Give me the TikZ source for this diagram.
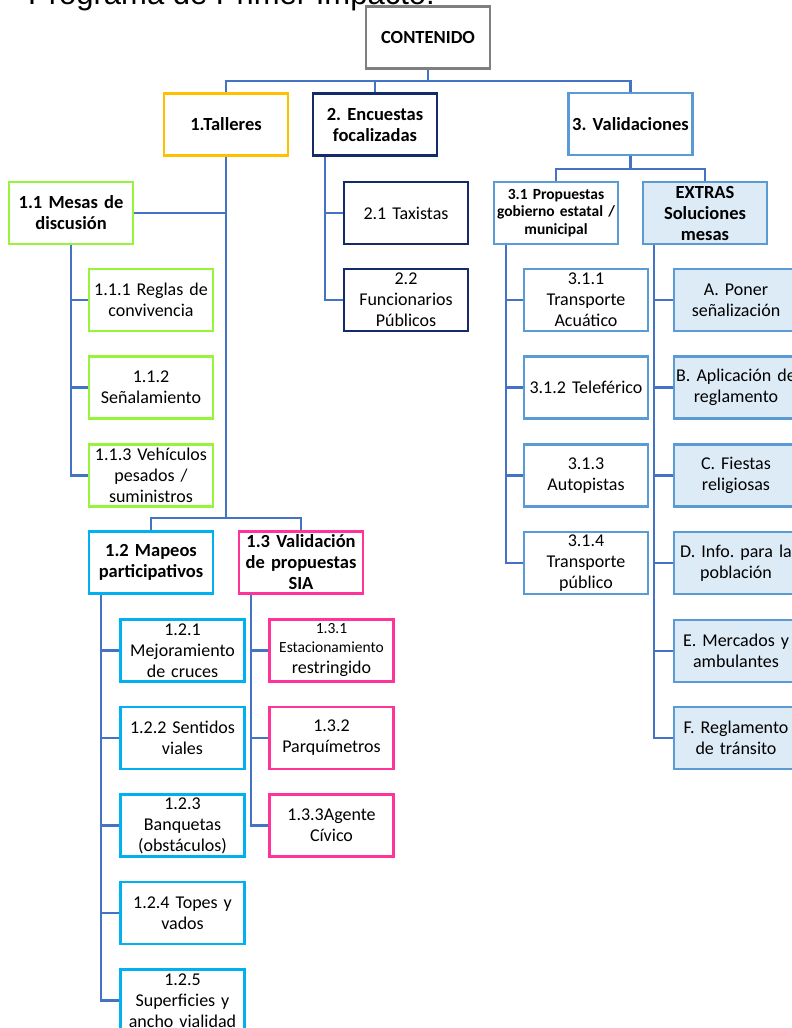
\documentclass[tikz,border=0pt]{standalone}
\usepackage{fontspec}
\setmainfont{Carlito}
\newfontfamily\titlefont{Liberation Sans}
\frenchspacing
\definecolor{linkblue}{HTML}{4472C4}
\definecolor{cgray}{HTML}{7F7F7F}
\definecolor{cyel}{HTML}{FFC000}
\definecolor{cnavy}{HTML}{142B6B}
\definecolor{clb}{HTML}{5B9BD5}
\definecolor{cfill}{HTML}{DDEBF7}
\definecolor{cgreen}{HTML}{96F53A}
\definecolor{ccyan}{HTML}{00B0F0}
\definecolor{cpink}{HTML}{FF3399}
\tikzset{
  bx/.style={draw, line width=2.5pt, fill=white, minimum width=124pt, minimum height=62pt,
    text width=120pt, align=center, inner xsep=2pt, inner ysep=0pt,
    font=\frenchspacing\fontsize{18}{21}\selectfont},
  bxb/.style={bx, font=\frenchspacing\fontsize{18.5}{21}\selectfont\bfseries},
  link/.style={draw=linkblue, line width=2.5pt},
}
\begin{document}
\begin{tikzpicture}[x=1pt,y=-1pt]
\useasboundingbox (0,0) rectangle (792,1028);
\clip (0,0) rectangle (792,1028);
\fill[white] (0,0) rectangle (792,1028);

\node[anchor=base west, inner sep=0pt, font=\titlefont\fontsize{31}{36}\selectfont] (title) at (28,4) {Programa de Primer Impacto:};

% level 0/1
\node[bxb, draw=cgray] (cont) at (428,37.5) {CONTENIDO};
\node[bxb, draw=cyel] (tal) at (226,124.5) {1.Talleres};
\node[bxb, draw=cnavy] (enc) at (375,124.5) {2. Encuestas\\focalizadas};
\node[bxb, draw=clb] (val) at (630.5,124) {3. Validaciones};

% branch 1
\node[bxb, draw=cgreen] (mes) at (71,213) {1.1 Mesas de\\discusión};
\node[bx, draw=cgreen] (m111) at (151,300) {1.1.1 Reglas de\\convivencia};
\node[bx, draw=cgreen] (m112) at (151,387.5) {1.1.2\\Señalamiento};
\node[bx, draw=cgreen] (m113) at (151,475.5) {1.1.3 Vehículos\\pesados /\\suministros};

\node[bxb, draw=ccyan] (map) at (151,562.5) {1.2 Mapeos\\participativos};
\node[bxb, draw=cpink] (vsia) at (301,562.5) {1.3 Validación\\de propuestas\\SIA};

\node[bx, draw=ccyan] (m121) at (182.5,650.5) {1.2.1\\Mejoramiento\\de cruces};
\node[bx, draw=ccyan] (m122) at (182.5,738) {1.2.2 Sentidos\\viales};
\node[bx, draw=ccyan] (m123) at (182.5,825.5) {1.2.3\\Banquetas\\(obstáculos)};
\node[bx, draw=ccyan] (m124) at (182.5,913) {1.2.4 Topes y\\vados};
\node[bx, draw=ccyan] (m125) at (182.5,1000.5) {1.2.5\\Superficies y\\ancho vialidad};

\node[bx, draw=cpink] (m131) at (331.5,650.5) {{\fontsize{15.5}{17}\selectfont 1.3.1}\\[-2pt]{\fontsize{15.5}{17}\selectfont Estacionamiento}\\restringido};
\node[bx, draw=cpink] (m132) at (331.5,738) {1.3.2\\Parquímetros};
\node[bx, draw=cpink] (m133) at (331.5,825.5) {1.3.3Agente\\Cívico};

% branch 2
\node[bx, draw=cnavy] (e21) at (406,213) {2.1 Taxistas};
\node[bx, draw=cnavy] (e22) at (406,300) {2.2\\Funcionarios\\Públicos};

% branch 3
\node[bxb, draw=clb, font=\frenchspacing\fontsize{15.5}{17.5}\selectfont\bfseries] (prop) at (556,213) {3.1 Propuestas\\gobierno estatal /\\municipal};
\node[bxb, draw=clb, fill=cfill] (ext) at (705,213) {EXTRAS\\Soluciones\\mesas};

\node[bx, draw=clb] (v311) at (586,300) {3.1.1\\Transporte\\Acuático};
\node[bx, draw=clb] (v312) at (586,387.5) {3.1.2 Teleférico};
\node[bx, draw=clb] (v313) at (586,475.5) {3.1.3\\Autopistas};
\node[bx, draw=clb] (v314) at (586,563) {3.1.4\\Transporte\\público};

\node[bx, draw=clb, fill=cfill] (xa) at (736,300) {A. Poner\\señalización};
\node[bx, draw=clb, fill=cfill] (xb) at (736,387.5) {B. Aplicación de\\reglamento};
\node[bx, draw=clb, fill=cfill] (xc) at (736,475.5) {C. Fiestas\\religiosas};
\node[bx, draw=clb, fill=cfill] (xd) at (736,563) {D. Info. para la\\población};
\node[bx, draw=clb, fill=cfill] (xe) at (736,651) {E. Mercados y\\ambulantes};
\node[bx, draw=clb, fill=cfill] (xf) at (736,738) {F. Reglamento\\de tránsito};

% connectors: top level
\coordinate (cb) at (428,81);
\draw[link] (cont.south) -- (cb);
\draw[link] (tal.north) |- (cb) -| (val.north);
\draw[link] (enc.north) -- (enc.north |- cb);

% Talleres
\coordinate (tb) at (226,518);
\draw[link] (tal.south) -- (tb);
\draw[link] (mes.east) -- (mes.east -| tal.south);
\draw[link] (map.north) |- (tb) -| (vsia.north);

% Mesas
\draw[link] (mes.south) |- (m111.west);
\draw[link] (mes.south) |- (m112.west);
\draw[link] (mes.south) |- (m113.west);

% Mapeos
\draw[link] ([xshift=13pt]map.south west) |- (m121.west);
\draw[link] ([xshift=13pt]map.south west) |- (m122.west);
\draw[link] ([xshift=13pt]map.south west) |- (m123.west);
\draw[link] ([xshift=13pt]map.south west) |- (m124.west);
\draw[link] ([xshift=13pt]map.south west) |- (m125.west);

% Validacion SIA
\draw[link] ([xshift=13pt]vsia.south west) |- (m131.west);
\draw[link] ([xshift=13pt]vsia.south west) |- (m132.west);
\draw[link] ([xshift=13pt]vsia.south west) |- (m133.west);

% Encuestas
\draw[link] ([xshift=13pt]enc.south west) |- (e21.west);
\draw[link] ([xshift=13pt]enc.south west) |- (e22.west);

% Validaciones
\coordinate (vb) at (630.5,169);
\draw[link] (val.south) -- (vb);
\draw[link] (prop.north) |- (vb) -| (ext.north);

\draw[link] ([xshift=13pt]prop.south west) |- (v311.west);
\draw[link] ([xshift=13pt]prop.south west) |- (v312.west);
\draw[link] ([xshift=13pt]prop.south west) |- (v313.west);
\draw[link] ([xshift=13pt]prop.south west) |- (v314.west);

\draw[link] ([xshift=12pt]ext.south west) |- (xa.west);
\draw[link] ([xshift=12pt]ext.south west) |- (xb.west);
\draw[link] ([xshift=12pt]ext.south west) |- (xc.west);
\draw[link] ([xshift=12pt]ext.south west) |- (xd.west);
\draw[link] ([xshift=12pt]ext.south west) |- (xe.west);
\draw[link] ([xshift=12pt]ext.south west) |- (xf.west);
\end{tikzpicture}
\end{document}
